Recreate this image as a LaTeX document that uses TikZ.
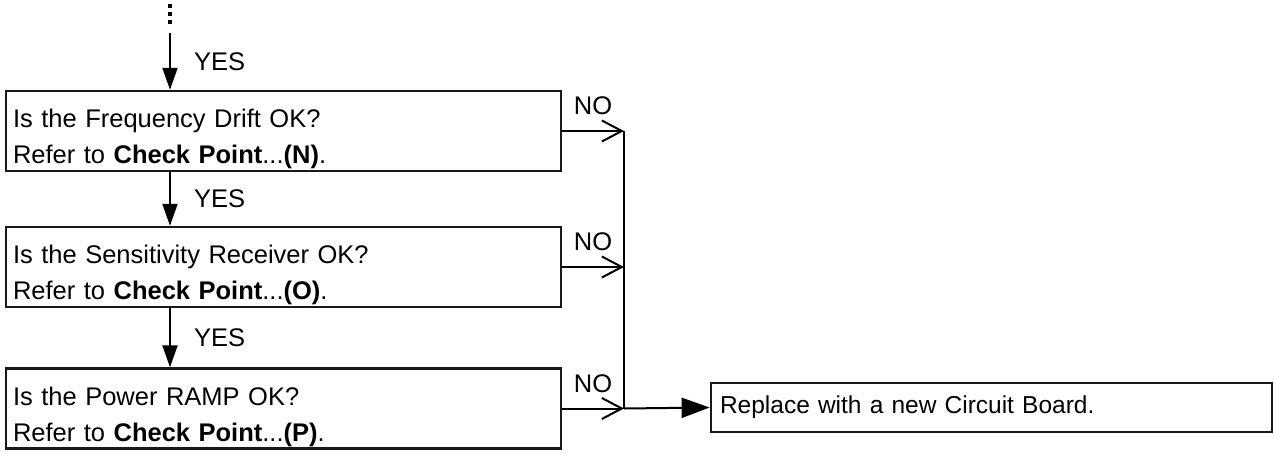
\documentclass[tikz,border=0pt]{standalone}
\usepackage{fontspec}
\setmainfont{Liberation Sans}
\usetikzlibrary{arrows.meta,positioning}

\begin{document}
\begin{tikzpicture}[x=1pt,y=-1pt,font=\fontsize{25.5}{36}\selectfont,
 chk/.style={draw=black!90,line width=2.4pt,minimum width=555pt,minimum height=80pt,
   text width=541pt,align=left,inner xsep=7pt,inner ysep=0pt,
   execute at begin node={\rule{0pt}{35pt}}},
 yes/.style={-{Triangle[length=22pt,width=15pt]},line width=2pt},
 no/.style={-{Straight Barb[length=20pt,width=21pt]},line width=2pt},
 lab/.style={inner sep=1pt}]
\useasboundingbox (0,0) rectangle (1274,453);
\coordinate (spine) at (170,33);
\node[chk] (drift) at (283.5,131) {Is the Frequency Drift OK?\\Refer to \textbf{Check Point}...\textbf{(N)}.};
\node[chk] (sens) at (283.5,267) {Is the Sensitivity Receiver OK?\\Refer to \textbf{Check Point}...\textbf{(O)}.};
\node[chk] (ramp) at (283.5,408.5) {Is the Power RAMP OK?\\Refer to \textbf{Check Point}...\textbf{(P)}.};
\node[draw=black!90,line width=2.8pt,minimum width=561pt,minimum height=49pt,
  text width=543pt,align=left,inner xsep=9pt,font=\fontsize{24.5}{30}\selectfont] (board) at (991.5,407.5) {Replace with a new Circuit Board.};
\draw[line width=3.5pt,dash pattern=on 3.5pt off 4.5pt] (170,4) -- (170,25);
\draw[yes] (spine) -- (drift.north -| spine) node[lab,midway,anchor=west,xshift=22pt] (yes1) {YES};
\draw[yes] (drift.south -| spine) -- (sens.north -| spine) node[lab,midway,anchor=west,xshift=22pt] (yes2) {YES};
\draw[yes] (sens.south -| spine) -- (ramp.north -| spine) node[lab,midway,anchor=west,xshift=22pt] (yes3) {YES};
\coordinate (bus) at (624,0);
\foreach \n/\k in {drift/1,sens/2,ramp/3}
 {\draw[no] (\n.east) -- (\n.east -| bus) node[lab,midway,anchor=south,yshift=14pt] (no\k) {NO};}
\draw[line width=2pt] (drift.east -| bus) -- (ramp.east -| bus);
\draw[-{Triangle[length=28pt,width=20pt]},line width=2pt] (ramp.east -| bus) -- (board.west);
\end{tikzpicture}
\end{document}
